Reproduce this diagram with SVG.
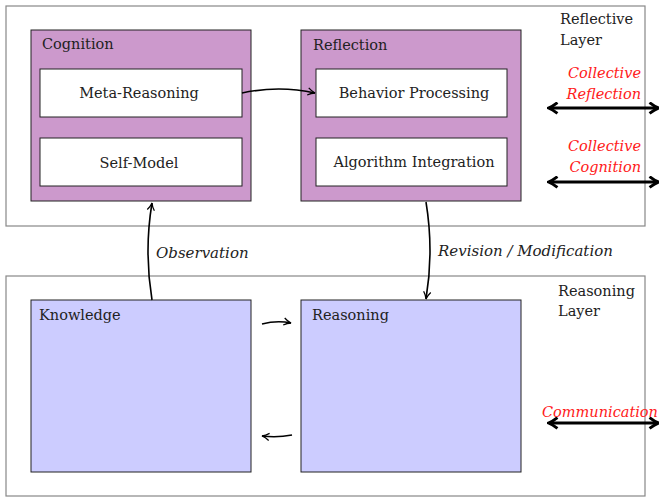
<svg xmlns="http://www.w3.org/2000/svg" width="659" height="498" viewBox="0 0 659 498">
<defs>
<marker id="ah" viewBox="0 0 10 10" refX="9" refY="5" markerWidth="9" markerHeight="9" markerUnits="userSpaceOnUse" orient="auto-start-reverse">
<path d="M1,1 Q5,4 9,5 Q5,6 1,9" fill="none" stroke="#000" stroke-width="1.4"/>
</marker>
<marker id="bh" viewBox="0 0 10 10" refX="8.5" refY="5" markerWidth="13" markerHeight="13" markerUnits="userSpaceOnUse" orient="auto-start-reverse">
<path d="M2,0.8 Q6,4 9,5 Q6,6 2,9.2" fill="none" stroke="#000" stroke-width="2.2"/>
</marker>
</defs>
<style>
text{font-family:"DejaVu Serif","Liberation Serif",serif;font-size:14.5px;fill:#222}
.layer{fill:none;stroke:#888;stroke-width:1.2}
.purple{fill:#CC99CC;stroke:#222;stroke-width:1}
.blue{fill:#CCCCFF;stroke:#222;stroke-width:1}
.inner{fill:#fff;stroke:#222;stroke-width:1}
.red{fill:#FF2020;font-style:italic}
.it{font-style:italic;font-size:15px}
.conn{fill:none;stroke:#000;stroke-width:1.6;marker-end:url(#ah)}
.dbl{fill:none;stroke:#000;stroke-width:3;marker-end:url(#bh);marker-start:url(#bh)}
</style>
<rect class="layer" x="6" y="6" width="639" height="220"/>
<rect class="layer" x="6" y="276" width="639" height="220"/>
<g id="reflective-layer-label"><text x="560" y="24">Reflective</text><text x="560" y="45">Layer</text></g>
<g id="reasoning-layer-label"><text x="558" y="296">Reasoning</text><text x="558" y="316">Layer</text></g>
<g id="cognition"><rect class="purple" x="31" y="30" width="220" height="171"/><text x="42" y="49">Cognition</text></g>
<g id="reflection"><rect class="purple" x="301" y="30" width="220" height="171"/><text x="313" y="50">Reflection</text></g>
<g id="meta-reasoning"><rect class="inner" x="40" y="69" width="202" height="48"/><text x="139" y="98" text-anchor="middle">Meta-Reasoning</text></g>
<g id="self-model"><rect class="inner" x="40" y="138" width="202" height="48"/><text x="139" y="168" text-anchor="middle">Self-Model</text></g>
<g id="behavior-processing"><rect class="inner" x="316" y="69" width="191" height="48"/><text x="414" y="98" text-anchor="middle">Behavior Processing</text></g>
<g id="algorithm-integration"><rect class="inner" x="316" y="138" width="191" height="48"/><text x="414" y="167" text-anchor="middle">Algorithm Integration</text></g>
<g id="knowledge"><rect class="blue" x="31" y="300" width="220" height="172"/><text x="39" y="320">Knowledge</text></g>
<g id="reasoning"><rect class="blue" x="301" y="300" width="220" height="172"/><text x="312" y="320">Reasoning</text></g>
<g id="connectors">
<path class="conn" d="M242,93 Q279,85 315,93"/>
<path class="conn" d="M152,300 Q144,251 152,203"/>
<path class="conn" d="M426,202 Q434,251 426,299"/>
<path class="conn" d="M262,324 Q277,320 291,323"/>
<path class="conn" d="M292,435 Q277,438 262,436"/>
<path class="dbl" d="M549,108 L658,108"/>
<path class="dbl" d="M549,182 L658,182"/>
<path class="dbl" d="M549,423 L658,423"/>
</g>
<g id="labels">
<text class="it" x="156" y="258">Observation</text>
<text class="it" x="438" y="256">Revision / Modification</text>
<text class="red" x="641" y="78" text-anchor="end">Collective</text>
<text class="red" x="641" y="99" text-anchor="end">Reflection</text>
<text class="red" x="641" y="151" text-anchor="end">Collective</text>
<text class="red" x="641" y="172" text-anchor="end">Cognition</text>
<text class="red" x="542" y="417">Communication</text>
</g>
</svg>
